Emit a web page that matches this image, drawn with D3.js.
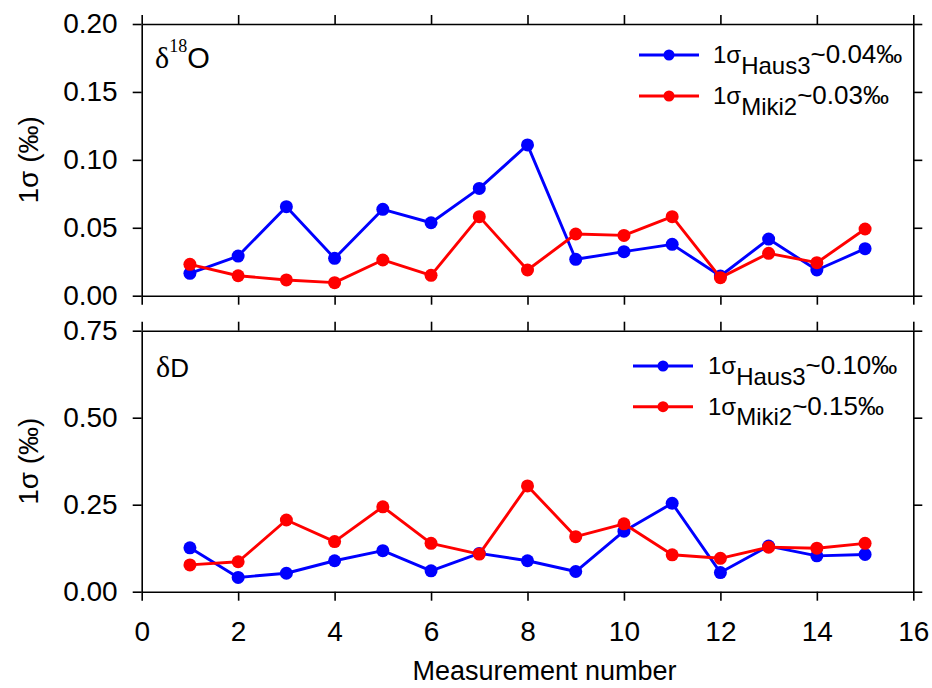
<!DOCTYPE html>
<html>
<head>
<meta charset="utf-8">
<script src="https://cdn.jsdelivr.net/npm/d3@7/dist/d3.min.js"></script>
<style>
  html, body { margin: 0; padding: 0; background: #fff; }
  svg { display: block; }
  text { font-family: "Liberation Sans", Arial, sans-serif; fill: #000; }
</style>
</head>
<body>
<svg id="chart" width="932" height="688"></svg>
<script>
// Measurement numbers
const measurement = [1, 2, 3, 4, 5, 6, 7, 8, 9, 10, 11, 12, 13, 14, 15];

// 1σ of δ18O (‰)
const o18Haus3 = [0.0165, 0.0292, 0.0655, 0.0275, 0.0636, 0.0537, 0.0790, 0.1110, 0.0268, 0.0324, 0.0378, 0.0145, 0.0417, 0.0189, 0.0346];
const o18Miki2 = [0.0231, 0.0147, 0.0116, 0.0096, 0.0263, 0.0150, 0.0582, 0.0189, 0.0454, 0.0444, 0.0582, 0.0133, 0.0312, 0.0243, 0.0491];

// 1σ of δD (‰)
const dHaus3 = [0.126, 0.041, 0.053, 0.089, 0.118, 0.060, 0.110, 0.089, 0.058, 0.174, 0.254, 0.055, 0.131, 0.103, 0.107];
const dMiki2 = [0.077, 0.086, 0.206, 0.144, 0.244, 0.139, 0.108, 0.304, 0.158, 0.195, 0.106, 0.096, 0.128, 0.125, 0.139];

// Axis ticks
const xTicks = [0, 2, 4, 6, 8, 10, 12, 14, 16];
const o18Ticks = [0, 0.05, 0.10, 0.15, 0.20];
const dTicks = [0, 0.25, 0.50, 0.75];

// Legend entries
const o18Legend = [
  { sub: "Haus3", tail: "~0.04‰", color: "#0000ff" },
  { sub: "Miki2", tail: "~0.03‰", color: "#ff0000" }
];
const dLegend = [
  { sub: "Haus3", tail: "~0.10‰", color: "#0000ff" },
  { sub: "Miki2", tail: "~0.15‰", color: "#ff0000" }
];

const svg = d3.select("#chart");
const left = 141.7, right = 913.3;
const x = d3.scaleLinear().domain([0, 16]).range([left, right]);

const panels = [
  {
    top: 24, bottom: 295.7, domain: [0, 0.2], ticks: o18Ticks,
    series: [{ v: o18Haus3, color: "#0000ff" }, { v: o18Miki2, color: "#ff0000" }],
    legend: o18Legend, legendX: 639, legendY: [55, 96], textX: 713,
    xLabels: false, title: "O18"
  },
  {
    top: 330.7, bottom: 591.7, domain: [0, 0.75], ticks: dTicks,
    series: [{ v: dHaus3, color: "#0000ff" }, { v: dMiki2, color: "#ff0000" }],
    legend: dLegend, legendX: 633, legendY: [366, 406.7], textX: 708,
    xLabels: true, title: "D"
  }
];

const tickLen = 9;
const serif = '"Liberation Serif", "Times New Roman", serif';

panels.forEach(p => {
  const y = d3.scaleLinear().domain(p.domain).range([p.bottom, p.top]);
  const g = svg.append("g");

  // Axes on all four sides, ticks pointing outward
  const styleAxis = sel => {
    sel.selectAll("path.domain").attr("stroke", "#000").attr("stroke-width", 1.6);
    sel.selectAll(".tick line").attr("stroke", "#000").attr("stroke-width", 1.6);
    sel.selectAll(".tick text").style("font-family", '"Liberation Sans", Arial, sans-serif')
      .style("font-size", "28px").attr("fill", "#000");
  };

  g.append("g").attr("transform", `translate(${left},0)`)
    .call(d3.axisLeft(y).tickValues(p.ticks).tickFormat(d3.format(".2f"))
      .tickSize(tickLen).tickSizeOuter(0).tickPadding(15))
    .call(styleAxis);

  g.append("g").attr("transform", `translate(${right},0)`)
    .call(d3.axisRight(y).tickValues(p.ticks).tickFormat("")
      .tickSize(tickLen).tickSizeOuter(0))
    .call(styleAxis);

  g.append("g").attr("transform", `translate(0,${p.top})`)
    .call(d3.axisTop(x).tickValues(xTicks).tickFormat("")
      .tickSize(tickLen).tickSizeOuter(0))
    .call(styleAxis);

  g.append("g").attr("transform", `translate(0,${p.bottom})`)
    .call(d3.axisBottom(x).tickValues(xTicks)
      .tickFormat(p.xLabels ? d3.format("d") : "")
      .tickSize(tickLen).tickSizeOuter(0).tickPadding(20))
    .call(styleAxis);

  // Series lines and markers
  const line = d3.line().x((d, i) => x(measurement[i])).y(d => y(d));
  p.series.forEach(s => {
    g.append("path").datum(s.v)
      .attr("d", line).attr("fill", "none")
      .attr("stroke", s.color).attr("stroke-width", 2.9)
      .attr("stroke-linejoin", "round");
    g.selectAll(null).data(s.v).enter().append("circle")
      .attr("cx", (d, i) => x(measurement[i])).attr("cy", d => y(d))
      .attr("r", 6.5).attr("fill", s.color);
  });

  // Legend
  p.legend.forEach((e, i) => {
    const ly = p.legendY[i];
    g.append("line").attr("x1", p.legendX).attr("x2", p.legendX + 60)
      .attr("y1", ly).attr("y2", ly).attr("stroke", e.color).attr("stroke-width", 2.9);
    g.append("circle").attr("cx", p.legendX + 30).attr("cy", ly).attr("r", 5.5).attr("fill", e.color);
    const t = g.append("text").attr("x", p.textX).attr("y", ly + 8)
      .style("font-size", "24px");
    t.append("tspan").text("1σ");
    t.append("tspan").attr("dy", 10.5).text(e.sub);
    t.append("tspan").attr("dy", -10.5).style("font-size", "26px").text(e.tail);
  });

  // Panel title
  if (p.title === "O18") {
    const t = g.append("text").attr("x", 155).attr("y", 68);
    t.append("tspan").style("font-family", serif).style("font-size", "30px").text("δ");
    t.append("tspan").attr("dy", -16).style("font-family", serif).style("font-size", "18px").text("18");
    t.append("tspan").attr("dy", 16).style("font-size", "29px").text("O");
  } else {
    const t = g.append("text").attr("x", 156).attr("y", 376.7);
    t.append("tspan").style("font-family", serif).style("font-size", "30px").text("δ");
    t.append("tspan").style("font-size", "26px").text("D");
  }

  // Y axis title
  g.append("text")
    .attr("transform", `translate(38,${(p.top + p.bottom) / 2}) rotate(-90)`)
    .attr("text-anchor", "middle").style("font-size", "28px").text("1σ (‰)");
});

// X axis title
svg.append("text").attr("x", (left + right) / 2 + 17).attr("y", 680)
  .attr("text-anchor", "middle").style("font-size", "27px").text("Measurement number");
</script>
</body>
</html>
